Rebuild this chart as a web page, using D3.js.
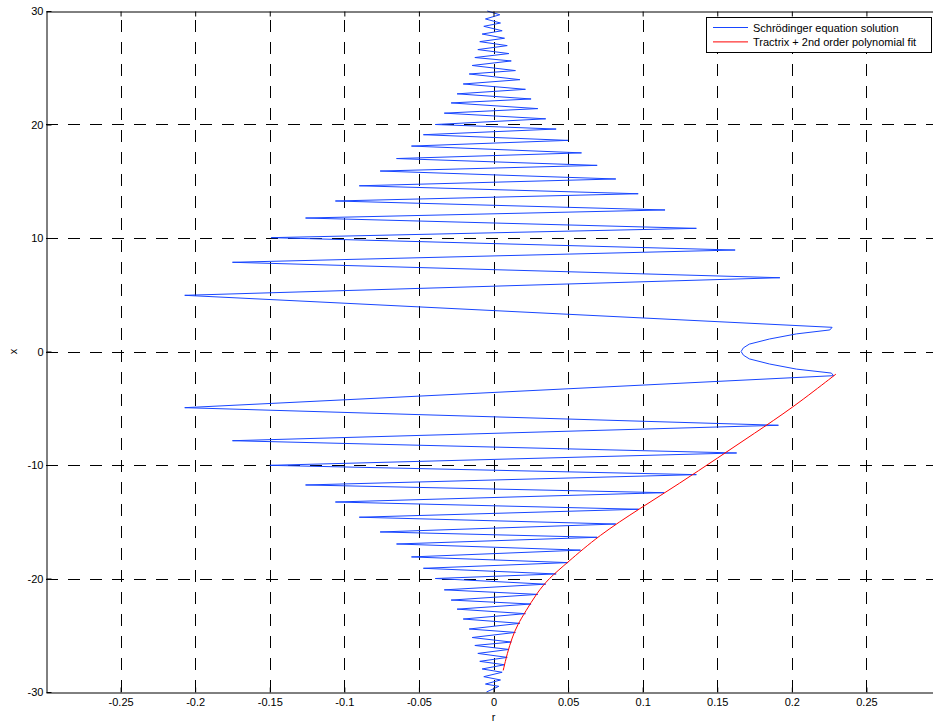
<!DOCTYPE html>
<html>
<head>
<meta charset="utf-8">
<script src="https://cdn.jsdelivr.net/npm/d3@7/dist/d3.min.js"></script>
<style>
body { margin: 0; background: #fff; }
svg { display: block; font-family: "Liberation Sans", Arial, Helvetica, sans-serif; }
</style>
</head>
<body>
<svg width="933" height="724"></svg>
<script>
// ticks
var rTicks = [-0.25, -0.2, -0.15, -0.1, -0.05, 0, 0.05, 0.1, 0.15, 0.2, 0.25];
var rTickLabels = ["-0.25", "-0.2", "-0.15", "-0.1", "-0.05", "0", "0.05", "0.1", "0.15", "0.2", "0.25"];
var xTicks = [-30, -20, -10, 0, 10, 20, 30];
var xTickLabels = ["-30", "-20", "-10", "0", "10", "20", "30"];

// Schrodinger solution, upper half (x from 30 down to 0)
var blueTopR = [-0.0042, 0.0042, -0.0054, 0.0047, -0.0065, 0.0058, -0.0076, 0.0074, -0.0092, 0.0092,
  -0.0105, 0.0103, -0.0125, 0.0119, -0.0143, 0.0147, -0.0163, 0.0177, -0.0203, 0.0214,
  -0.0244, 0.0252, -0.0284, 0.0297, -0.033, 0.035, -0.039, 0.042, -0.047, 0.050,
  -0.055, 0.059, -0.065, 0.0695, -0.076, 0.082, -0.090, 0.097, -0.106, 0.115,
  -0.126, 0.136, -0.149, 0.162, -0.175, 0.192, -0.207, 0.227, 0.2255, 0.203, 0.185, 0.1715, 0.1675, 0.166];
var blueTopX = [30, 29.67, 29.3, 28.94, 28.65, 28.26, 27.97, 27.6, 27.3, 26.95,
  26.6, 26.25, 25.9, 25.6, 25.2, 24.75, 24.45, 23.95, 23.57, 23.1,
  22.7, 22.25, 21.9, 21.4, 21.0, 20.5, 20.0, 19.6, 19.1, 18.6,
  18.1, 17.5, 17.0, 16.4, 15.9, 15.2, 14.6, 13.9, 13.26, 12.47,
  11.76, 10.85, 10.03, 8.94, 7.86, 6.5, 4.95, 2.13, 1.9, 1.55, 1.1, 0.65, 0.32, 0];
// lower half (x from 0 down to -30)
var blueBotR = [0.1675, 0.1715, 0.185, 0.203, 0.2265, 0.228, -0.207, 0.191, -0.175, 0.163, -0.150, 0.136,
  -0.126, 0.1144, -0.106, 0.0974, -0.090, 0.082, -0.076, 0.0695, -0.065, 0.0583,
  -0.055, 0.050, -0.047, 0.042, -0.039, 0.035, -0.033, 0.0297, -0.0284, 0.0252,
  -0.0244, 0.0214, -0.0203, 0.0177, -0.0163, 0.0147, -0.0143, 0.0119, -0.0125, 0.0103,
  -0.0105, 0.0092, -0.0092, 0.0074, -0.0076, 0.0058, -0.0065, 0.0047, -0.0054, 0.0036, -0.0047];
var blueBotX = [-0.32, -0.65, -1.1, -1.55, -1.9, -2.13, -4.95, -6.5, -7.86, -8.94, -10.03, -10.85,
  -11.76, -12.44, -13.26, -13.9, -14.6, -15.2, -15.9, -16.37, -16.96, -17.5,
  -18.1, -18.6, -19.1, -19.6, -20.0, -20.5, -21.0, -21.4, -21.9, -22.25,
  -22.7, -23.1, -23.57, -23.95, -24.45, -24.75, -25.2, -25.6, -25.9, -26.25,
  -26.6, -26.95, -27.3, -27.6, -27.97, -28.26, -28.65, -28.94, -29.3, -29.5, -30];

// Tractrix + polynomial fit
var redR = [0.0065, 0.0092, 0.0125, 0.016, 0.0215, 0.029, 0.037, 0.049, 0.0706, 0.0985, 0.125, 0.15, 0.175, 0.2, 0.2295];
var redX = [-28.1, -26.6, -25.2, -24.1, -22.9, -21.3, -20.0, -18.66, -16.2, -13.8, -11.6, -9.4, -7.2, -5.0, -2.0];

var legendNames = ["Schrödinger equation solution", "Tractrix + 2nd order polynomial fit"];
var legendColors = ["#1846ff", "#ff0000"];

var svg = d3.select("svg");
// plot box (right edge lies past the window, as in the reference)
var boxL = 46, boxT = 11, boxB = 692, boxR = 941;

var x = d3.scaleLinear().domain([-0.3, 0.3]).range([boxL, boxR]);
var y = d3.scaleLinear().domain([-30, 30]).range([boxB, boxT]);

svg.append("rect").attr("x", boxL).attr("y", boxT).attr("width", boxR - boxL).attr("height", boxB - boxT).attr("fill", "#fff");

// grid
svg.append("g").selectAll("line").data(rTicks).join("line")
  .attr("x1", d => Math.round(x(d)) + 0.5).attr("x2", d => Math.round(x(d)) + 0.5)
  .attr("y1", boxB).attr("y2", boxT)
  .attr("stroke", "#000").attr("stroke-width", 1).attr("stroke-dasharray", "12,10");
svg.append("g").selectAll("line").data(xTicks.filter(d => d > -30 && d < 30)).join("line")
  .attr("y1", d => Math.round(y(d)) + 0.5).attr("y2", d => Math.round(y(d)) + 0.5)
  .attr("x1", boxL).attr("x2", boxR)
  .attr("stroke", "#000").attr("stroke-width", 1).attr("stroke-dasharray", "12,10");

// curves
var line = d3.line().x(d => x(d[0])).y(d => y(d[1]));
var bluePts = d3.zip(blueTopR.concat(blueBotR), blueTopX.concat(blueBotX));
svg.append("path").attr("d", line(bluePts)).attr("fill", "none")
  .attr("stroke", legendColors[0]).attr("stroke-width", 1);

var redLine = d3.line().x(d => x(d[0])).y(d => y(d[1])).curve(d3.curveBasis);
svg.append("path").attr("d", redLine(d3.zip(redR, redX))).attr("fill", "none")
  .attr("stroke", legendColors[1]).attr("stroke-width", 1);

// axes
svg.append("g").attr("transform", "translate(0," + (boxB + 0.5) + ")")
  .call(d3.axisBottom(x).tickValues(rTicks).tickFormat((d, i) => rTickLabels[i]).tickSizeInner(-5).tickSizeOuter(0).tickPadding(6));
svg.append("g").attr("transform", "translate(0," + (boxT + 0.5) + ")")
  .call(d3.axisTop(x).tickValues(rTicks).tickFormat("").tickSizeInner(-5).tickSizeOuter(0));
svg.append("g").attr("transform", "translate(" + (boxL + 0.5) + ",0)")
  .call(d3.axisLeft(y).tickValues(xTicks).tickFormat((d, i) => xTickLabels[i]).tickSizeInner(-5).tickSizeOuter(0).tickPadding(3));

svg.selectAll(".domain").attr("stroke", "#000").attr("stroke-width", 1);
svg.selectAll(".tick line").attr("stroke", "#000");
svg.selectAll(".tick text").attr("fill", "#000").attr("font-size", 11)
  .attr("font-family", "'Liberation Sans', Arial, Helvetica, sans-serif");

// axis labels
svg.append("text").attr("x", x(0)).attr("y", 721).attr("text-anchor", "middle")
  .attr("font-size", 11).text("r");
svg.append("text").attr("transform", "translate(17," + y(0) + ") rotate(-90)")
  .attr("text-anchor", "middle").attr("font-size", 11).text("x");

// legend
var lg = svg.append("g");
lg.append("rect").attr("x", 706.5).attr("y", 17.5).attr("width", 225).attr("height", 35)
  .attr("fill", "#fff").attr("stroke", "#000").attr("stroke-width", 1);
legendNames.forEach(function (name, i) {
  var ly = 27.5 + i * 14.4;
  lg.append("line").attr("x1", 713).attr("x2", 748).attr("y1", ly).attr("y2", ly)
    .attr("stroke", legendColors[i]).attr("stroke-width", 1);
  lg.append("text").attr("x", 753).attr("y", ly + 4).attr("font-size", 11).text(name);
});
</script>
</body>
</html>
